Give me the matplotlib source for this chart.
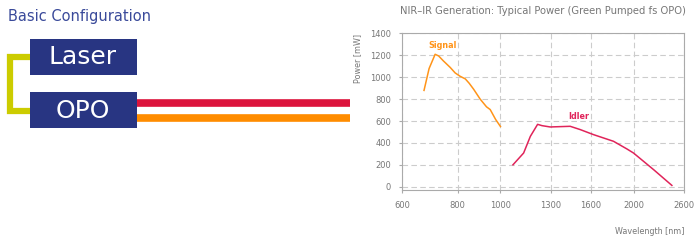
import matplotlib.pyplot as plt
from matplotlib.patches import Rectangle
from matplotlib.ticker import FixedLocator, NullLocator

# Data
signal_wl = [672, 690, 712, 725, 743, 770, 790, 810, 833, 850, 870, 900, 930, 948, 975, 1000]
signal_mw = [880, 1080, 1210, 1195, 1150, 1090, 1040, 1010, 985, 945, 890, 800, 730, 705, 615, 550]

idler_wl = [1067, 1128, 1168, 1213, 1241, 1295, 1437, 1514, 1622, 1800, 1930, 1997, 2217, 2438]
idler_mw = [200, 308, 460, 570, 558, 546, 552, 522, 476, 415, 345, 308, 156, 12]

x_ticks = [600, 800, 1000, 1300, 1600, 2000, 2600]
y_ticks = [0, 200, 400, 600, 800, 1000, 1200, 1400]

navy = '#283582'
orange = '#FF9419'
crimson = '#E0245A'
gray = '#777777'

fig = plt.figure(figsize=(7, 2.41), dpi=100)

# Left side: configuration sketch, drawn in pixel coordinates
bg = fig.add_axes([0, 0, 1, 1])
bg.set_xlim(0, 700)
bg.set_ylim(241, 0)
bg.axis('off')

bg.text(8, 16, 'Basic Configuration', color='#3A4A9A', fontsize=10.5, va='center', ha='left')

# green bracket joining the two boxes
bg.plot([30, 9.5, 9.5, 30], [56.5, 56.5, 111, 111], color='#CCCC00', lw=4.5,
        solid_joinstyle='miter', solid_capstyle='butt')

# output beams
bg.plot([137, 350], [103, 103], color='#DC143C', lw=5.5, solid_capstyle='butt')
bg.plot([137, 350], [118, 118], color='#FF8C00', lw=5.5, solid_capstyle='butt')

bg.add_patch(Rectangle((30, 39), 106.7, 35.7, facecolor=navy, edgecolor='none'))
bg.add_patch(Rectangle((30, 92.3), 106.7, 35.7, facecolor=navy, edgecolor='none'))
bg.text(83, 57, 'Laser', color='white', fontsize=18, ha='center', va='center')
bg.text(83, 110.5, 'OPO', color='white', fontsize=18, ha='center', va='center')

# Right side: power chart
ax = fig.add_axes([0.5746, 0.2116, 0.4029, 0.6494])
ax.plot(signal_wl, signal_mw, color=orange, lw=1.1)
ax.plot(idler_wl, idler_mw, color=crimson, lw=1.1)

ax.set_xscale('log')
ax.set_xlim(600, 2600)
ax.set_ylim(-30, 1400)
ax.xaxis.set_major_locator(FixedLocator(x_ticks))
ax.xaxis.set_minor_locator(NullLocator())
ax.set_xticklabels([str(t) for t in x_ticks])
ax.set_yticks(y_ticks)

ax.grid(True, color='#CCCCCC', linestyle=(0, (5, 3)), lw=0.8)
for s in ax.spines.values():
    s.set_color('#AAAAAA')
    s.set_linewidth(0.8)
ax.tick_params(colors='#AAAAAA', labelcolor=gray, labelsize=6, length=2, width=0.8, pad=6)

ax.text(741, 1293, 'Signal', color=orange, fontsize=5.8, fontweight='bold', ha='center', va='center')
ax.text(1501, 643, 'Idler', color=crimson, fontsize=5.8, fontweight='bold', ha='center', va='center')

ax.set_title('NIR\u2013IR Generation: Typical Power (Green Pumped fs OPO)', color=gray, fontsize=7.2, pad=14)
ax.set_xlabel('Wavelength [nm]', color=gray, fontsize=5.8, loc='right', labelpad=12)
ax.set_ylabel('Power [mW]', color=gray, fontsize=5.8, loc='top', labelpad=6)

fig.savefig('out.png', dpi=100)
